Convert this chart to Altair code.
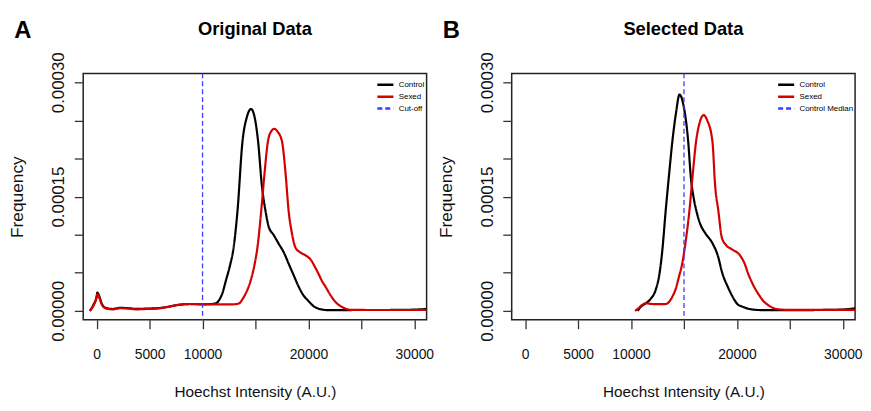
import altair as alt
import pandas as pd

FONT = "Liberation Sans"

# ---------------- data ----------------
panel_letters = ["A", "B"]
panel_titles = ["Original Data", "Selected Data"]
series_left = ["Control", "Sexed", "Cut-off"]
series_right = ["Control", "Sexed", "Control Median"]
series_colors = ["#000000", "#d40000", "#3c3cff"]
series_dashes = [[1, 0], [1, 0], [5, 3]]

x_ticks = [0, 5000, 10000, 15000, 20000, 25000, 30000]
y_ticks = [0, 0.00005, 0.0001, 0.00015, 0.0002, 0.00025, 0.0003]
x_title = "Hoechst Intensity (A.U.)"
y_title = "Frequency"

# Original data: Control
orig_control_x = [-650, -300, 0, 65, 200, 500, 840, 1500, 2240, 3000, 3800, 4700, 5670, 6600,
                  7540, 8790, 9880, 10800, 11280, 11600, 11870, 12210, 12600, 12900, 13300, 13770,
                  14200, 14580, 14950, 15250, 15600, 15950, 16260, 16700, 17200, 17700, 18130,
                  18600, 19070, 19500, 20000, 20500, 20940, 21400, 21870, 23000, 25000, 27000,
                  29000, 30200, 30900, 31160]
orig_control_y = [0, 0.8e-5, 1.9e-5, 2.4e-5, 2.1e-5, 0.9e-5, 0.4e-5, 0.25e-5, 0.4e-5, 0.35e-5,
                  0.26e-5, 0.3e-5, 0.35e-5, 0.5e-5, 0.75e-5, 0.9e-5, 0.85e-5, 0.9e-5, 1.0e-5,
                  1.5e-5, 2.3e-5, 4.0e-5, 6.0e-5, 8.0e-5, 13.1e-5, 22.2e-5, 25.5e-5, 26.5e-5,
                  25.2e-5, 22.2e-5, 16.5e-5, 13.1e-5, 11.0e-5, 10.0e-5, 8.8e-5, 7.6e-5, 6.2e-5,
                  4.7e-5, 3.2e-5, 2.1e-5, 1.3e-5, 0.6e-5, 0.3e-5, 0.15e-5, 0.1e-5, 0.1e-5,
                  0.12e-5, 0.12e-5, 0.13e-5, 0.18e-5, 0.22e-5, 0.22e-5]
# Original data: Sexed
orig_sexed_x = [-650, -300, 0, 65, 200, 500, 840, 1500, 2240, 3000, 3800, 4700, 5670, 6600,
                7540, 8790, 9880, 11000, 12000, 13000, 13460, 13800, 14080, 14550, 14900, 15200,
                15540, 15850, 16170, 16500, 16790, 17100, 17510, 17850, 18130, 18400, 18780,
                19200, 19720, 20280, 20600, 20940, 21250, 21600, 22180, 22600, 23120, 24050,
                26000, 28000, 30000, 31160]
orig_sexed_y = [0, 0.7e-5, 1.8e-5, 2.2e-5, 1.9e-5, 0.8e-5, 0.35e-5, 0.2e-5, 0.35e-5, 0.3e-5,
                0.2e-5, 0.25e-5, 0.3e-5, 0.5e-5, 0.75e-5, 0.9e-5, 0.9e-5, 0.85e-5, 0.85e-5,
                0.87e-5, 1.0e-5, 1.6e-5, 2.3e-5, 4.0e-5, 6.0e-5, 8.5e-5, 13.1e-5, 18.0e-5,
                22.2e-5, 23.6e-5, 23.9e-5, 23.5e-5, 22.2e-5, 17.9e-5, 13.1e-5, 10.5e-5, 8.3e-5,
                7.7e-5, 7.3e-5, 6.6e-5, 5.8e-5, 4.9e-5, 4.0e-5, 3.2e-5, 1.86e-5, 1.1e-5,
                0.56e-5, 0.13e-5, 0.12e-5, 0.12e-5, 0.12e-5, 0.12e-5]
orig_cutoff = [10000]

# Selected data: Control
sel_control_x = [10630, 10900, 11400, 11870, 12340, 12700, 12960, 13270, 13600, 13900, 14250,
                 14580, 14950, 15400, 15650, 15920, 16230, 16540, 17010, 17640, 18250, 18570,
                 19190, 19500, 20120, 20440, 21370, 22500, 25000, 28000, 30000, 30900, 31160]
sel_control_y = [0, 0.5e-5, 1.0e-5, 1.6e-5, 2.8e-5, 5.0e-5, 8.0e-5, 13.1e-5, 18.0e-5, 22.2e-5,
                 26.0e-5, 28.4e-5, 27.0e-5, 22.2e-5, 17.5e-5, 14.8e-5, 12.8e-5, 11.4e-5,
                 10.2e-5, 9.0e-5, 7.0e-5, 5.2e-5, 3.0e-5, 2.1e-5, 0.8e-5, 0.6e-5, 0.2e-5,
                 0.1e-5, 0.1e-5, 0.12e-5, 0.18e-5, 0.3e-5, 0.35e-5]
# Selected data: Sexed
sel_sexed_x = [10370, 10700, 10930, 11400, 12000, 12600, 13270, 13600, 13900, 14200, 14520,
               14830, 15150, 15510, 15800, 16140, 16500, 16850, 17200, 17690, 17940, 18250,
               18570, 19000, 19500, 20280, 20700, 21060, 21500, 21990, 22500, 22930, 23860,
               25000, 28000, 31160]
sel_sexed_y = [0, 0.35e-5, 0.65e-5, 1.0e-5, 0.9e-5, 0.88e-5, 0.9e-5, 1.2e-5, 1.86e-5, 2.8e-5,
               4.45e-5, 6.2e-5, 9.0e-5, 13.1e-5, 17.5e-5, 22.2e-5, 24.8e-5, 25.7e-5, 25.0e-5,
               22.2e-5, 16.5e-5, 13.1e-5, 9.65e-5, 8.6e-5, 8.1e-5, 7.3e-5, 6.3e-5, 4.9e-5,
               3.5e-5, 2.3e-5, 1.3e-5, 0.78e-5, 0.22e-5, 0.13e-5, 0.13e-5, 0.13e-5]
sel_median = [15000]

# ---------------- chart ----------------
W, H = 347, 249
X_DOMAIN = [-1270, 31160]
Y_DOMAIN = [-0.0000117, 0.0003117]


def lines_frame(xc, yc, xs, ys):
    return pd.concat([
        pd.DataFrame({"x": xc, "y": yc, "series": "Control"}),
        pd.DataFrame({"x": xs, "y": ys, "series": "Sexed"}),
    ], ignore_index=True)


def panel(letter, title, lines_df, vline_x, vline_name, domain, legend_x):
    xs = alt.Scale(domain=X_DOMAIN, nice=False, zero=False)
    ys = alt.Scale(domain=Y_DOMAIN, nice=False, zero=False)
    leg = alt.Legend(title=None, orient="none", legendX=legend_x, legendY=5.5,
                     symbolType="M-1.8,0H1.8", symbolSize=81, symbolStrokeWidth=2.5,
                     labelFontSize=8, labelFont=FONT, labelColor="#000",
                     labelOffset=7.5, rowPadding=1, padding=0, labelLimit=200)
    color = alt.Color("series:N", scale=alt.Scale(domain=domain, range=series_colors), legend=leg)
    dash = alt.StrokeDash("series:N", scale=alt.Scale(domain=domain, range=series_dashes), legend=leg)

    xaxis = alt.Axis(values=x_ticks, format="d",
                     labelExpr="datum.value == 15000 || datum.value == 25000 ? '' : datum.label",
                     title=x_title, grid=False, domain=False, tickSize=9, tickWidth=1.3,
                     tickColor="#333", labelFontSize=14, labelPadding=19.5, labelColor="#111",
                     labelFont=FONT, labelFlush=False, labelOverlap=False,
                     titleFont=FONT, titleFontSize=15.5, titleFontWeight="normal",
                     titleColor="#111", titleY=66, titleBaseline="top")
    yaxis = alt.Axis(values=y_ticks,
                     labelExpr="(abs(datum.value) < 1e-9 || abs(datum.value - 0.00015) < 1e-9 || "
                               "abs(datum.value - 0.0003) < 1e-9) ? format(datum.value, '.5f') : ''",
                     labelAngle=270, labelAlign="center", labelBaseline="bottom",
                     labelPadding=6.5, labelFontSize=17, labelFont=FONT, labelColor="#111",
                     labelOverlap=False, labelFlush=False,
                     grid=False, domain=False, tickSize=9, tickWidth=1.3, tickColor="#333",
                     title=y_title, titleFont=FONT, titleFontSize=17.5, titleFontWeight="normal",
                     titleColor="#111", titleAngle=270, titleX=-57, titleY=H / 2,
                     titleAlign="center", titleBaseline="bottom")

    lines = alt.Chart(lines_df).mark_line(strokeWidth=2.2, interpolate="monotone", clip=True).encode(
        x=alt.X("x:Q", scale=xs, axis=xaxis),
        y=alt.Y("y:Q", scale=ys, axis=yaxis),
        color=color, strokeDash=dash,
    )
    vdf = pd.DataFrame({"x": vline_x, "series": vline_name})
    rule = alt.Chart(vdf).mark_rule(strokeWidth=1.3).encode(
        x=alt.X("x:Q", scale=xs), color=color, strokeDash=dash,
    )
    ttl = alt.Chart(pd.DataFrame({"t": [title]})).mark_text(
        font=FONT, fontSize=18.5, fontWeight="bold", align="center", baseline="alphabetic", color="#000"
    ).encode(text="t:N", x=alt.value(W / 2), y=alt.value(-39))
    let = alt.Chart(pd.DataFrame({"t": [letter]})).mark_text(
        font=FONT, fontSize=24, fontWeight="bold", align="center", baseline="alphabetic", color="#000"
    ).encode(text="t:N", x=alt.value(-61), y=alt.value(-36))
    return alt.layer(lines, rule, ttl, let).properties(width=W, height=H)


left = panel(panel_letters[0], panel_titles[0],
             lines_frame(orig_control_x, orig_control_y, orig_sexed_x, orig_sexed_y),
             orig_cutoff, series_left[2], series_left, 299.35)
right = panel(panel_letters[1], panel_titles[1],
              lines_frame(sel_control_x, sel_control_y, sel_sexed_x, sel_sexed_y),
              sel_median, series_right[2], series_right, 271.35)

chart = alt.hconcat(left, right, spacing=86, bounds="flush").resolve_scale(
    x="independent", y="independent", color="independent", strokeDash="independent"
).properties(
    padding={"left": 0, "top": 8, "right": 0, "bottom": 0}
).configure_view(stroke="#222", strokeWidth=1.5)

chart.save("out.html", embed_options={"renderer": "svg", "actions": False})
